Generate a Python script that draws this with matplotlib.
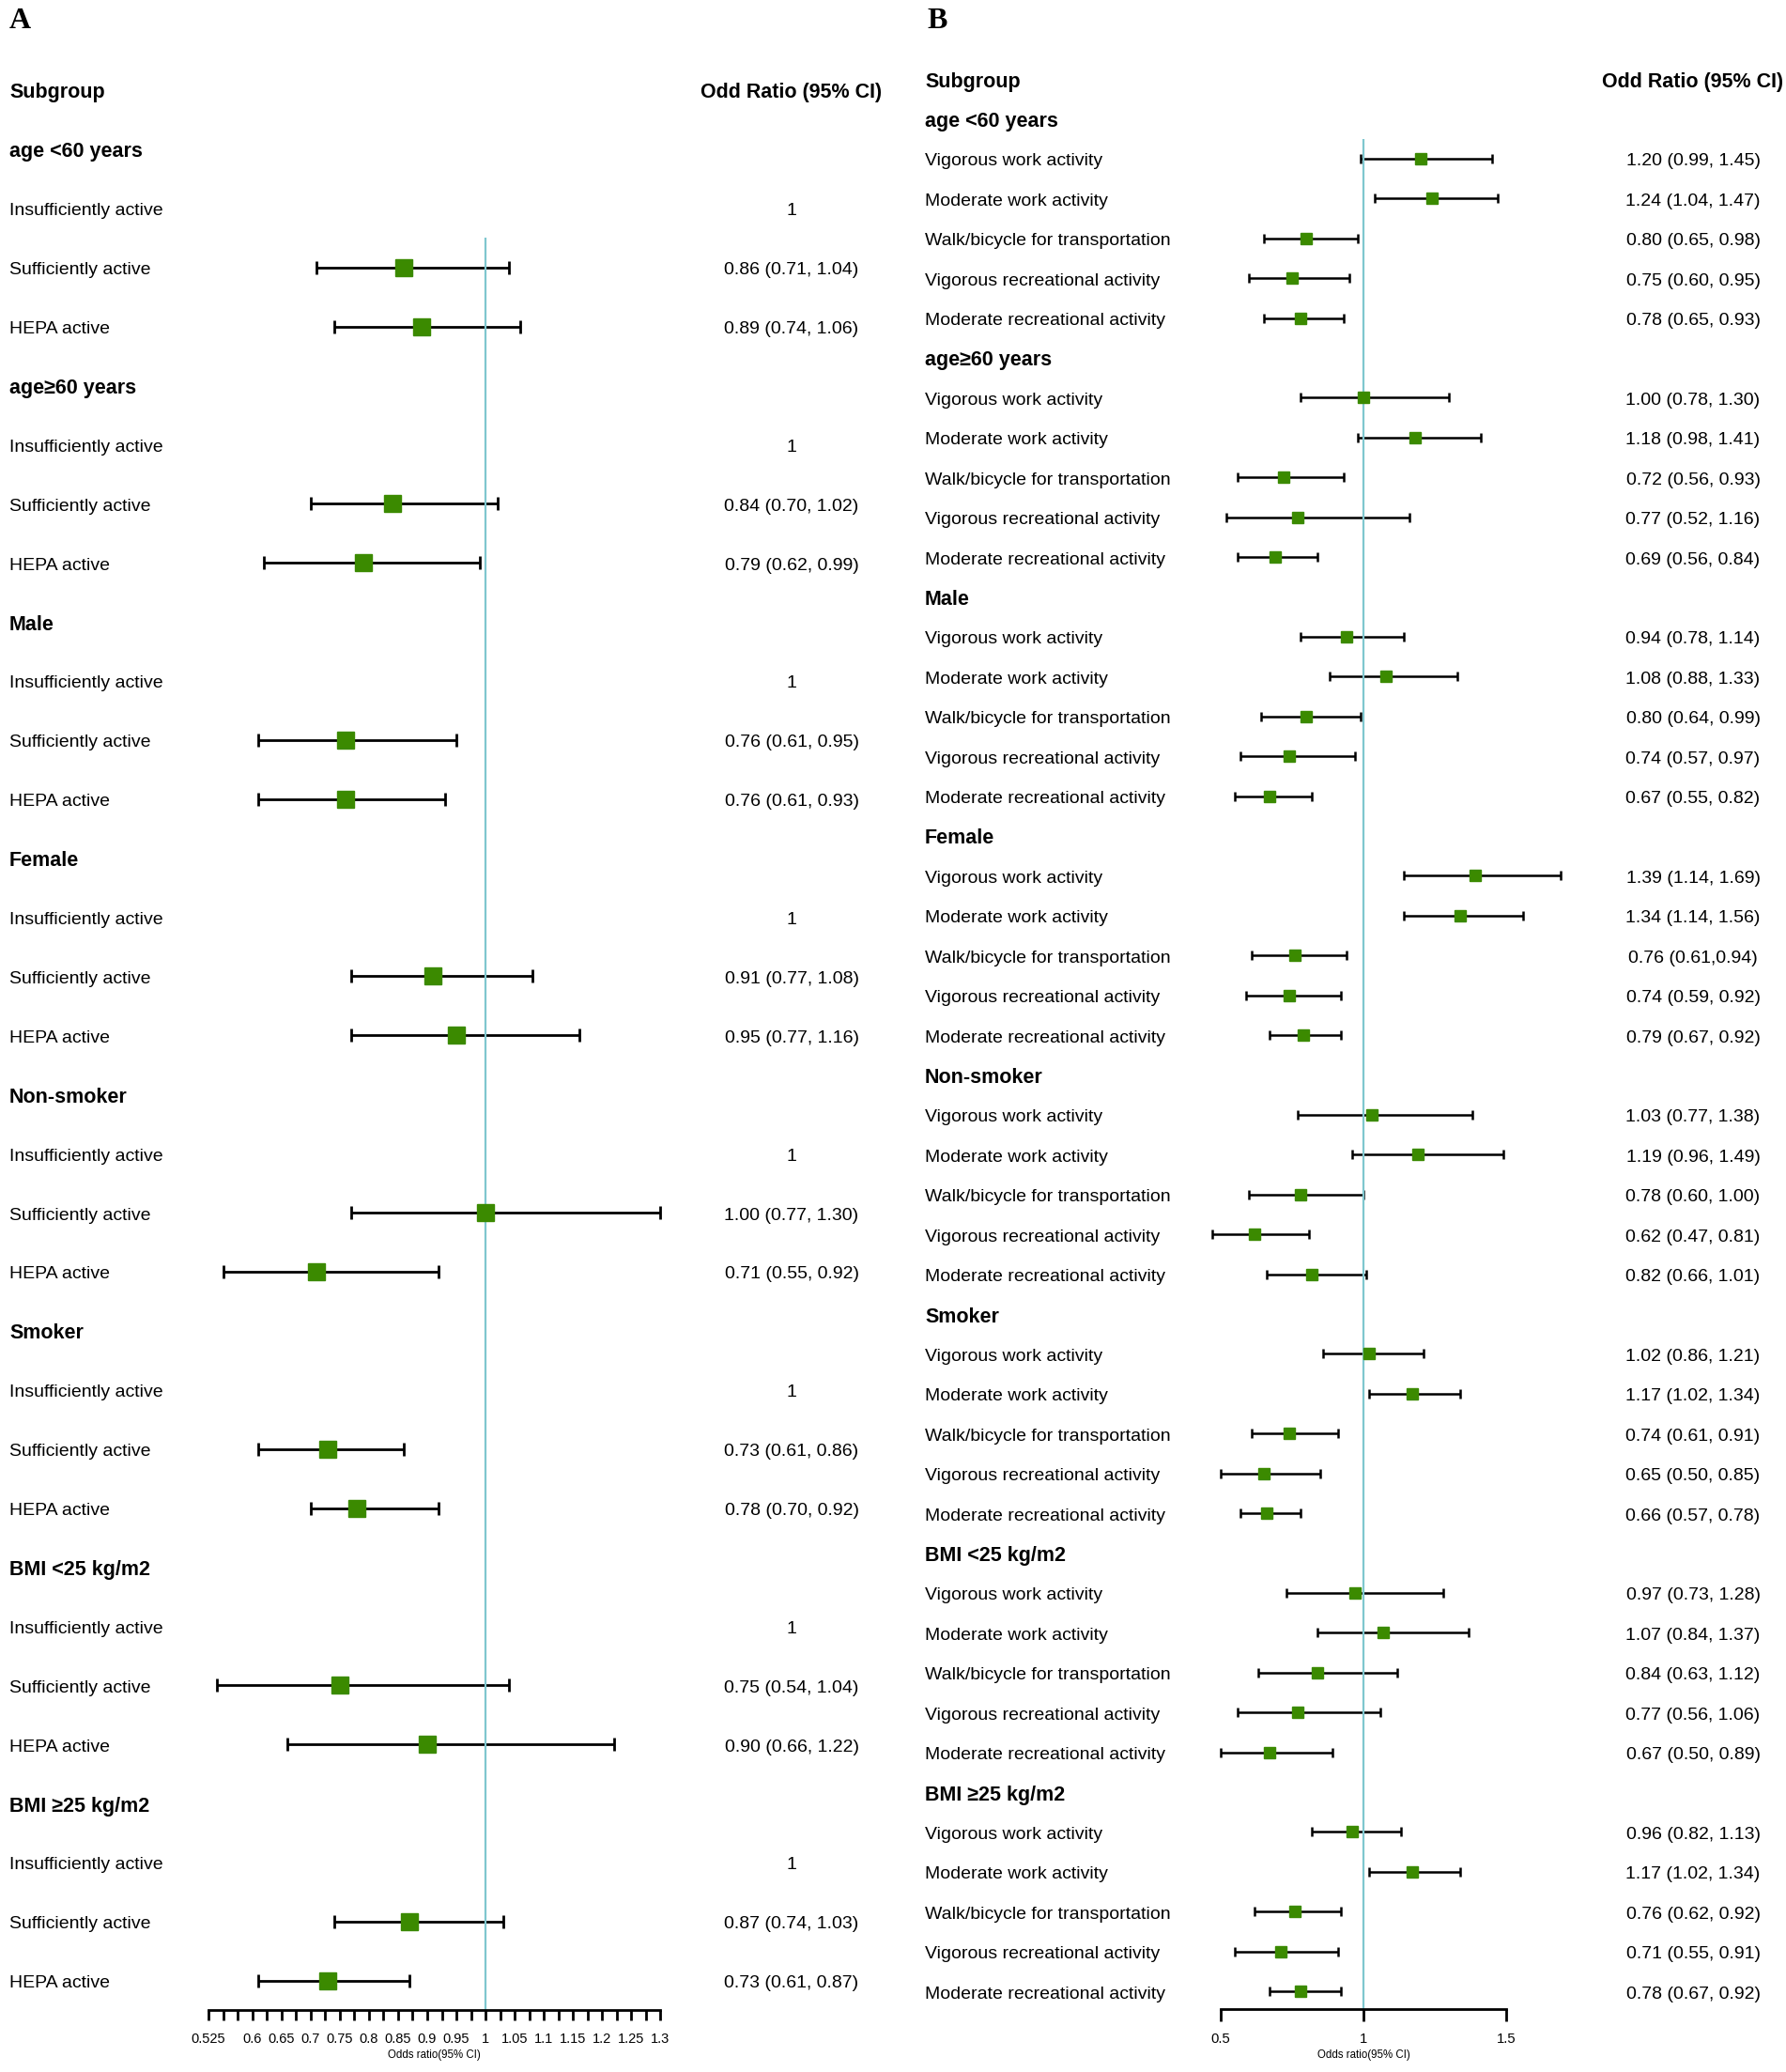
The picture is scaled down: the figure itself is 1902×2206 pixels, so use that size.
import numpy as np
import matplotlib
matplotlib.use("Agg")
import matplotlib.pyplot as plt
from matplotlib.transforms import blended_transform_factory, ScaledTranslation

plt.rcParams['font.family'] = ['Liberation Sans', 'DejaVu Sans']

# ---------------- data: panel A ----------------
left_groups = ["age <60 years", "age\u226560 years", "Male", "Female",
               "Non-smoker", "Smoker", "BMI <25 kg/m2", "BMI \u226525 kg/m2"]
left_rows = ["Insufficiently active", "Sufficiently active", "HEPA active"]
# reference category (Insufficiently active) = 1, no interval
left_or = [[1, 0.86, 0.89], [1, 0.84, 0.79], [1, 0.76, 0.76], [1, 0.91, 0.95],
           [1, 1.00, 0.71], [1, 0.73, 0.78], [1, 0.75, 0.90], [1, 0.87, 0.73]]
left_lo = [[None, 0.71, 0.74], [None, 0.70, 0.62], [None, 0.61, 0.61], [None, 0.77, 0.77],
           [None, 0.77, 0.55], [None, 0.61, 0.70], [None, 0.54, 0.66], [None, 0.74, 0.61]]
left_hi = [[None, 1.04, 1.06], [None, 1.02, 0.99], [None, 0.95, 0.93], [None, 1.08, 1.16],
           [None, 1.30, 0.92], [None, 0.86, 0.92], [None, 1.04, 1.22], [None, 1.03, 0.87]]
left_ticks = np.arange(0.525, 1.3001, 0.025)
left_tick_labels = {0.525: "0.525", 0.6: "0.6", 0.65: "0.65", 0.7: "0.7", 0.75: "0.75",
                    0.8: "0.8", 0.85: "0.85", 0.9: "0.9", 0.95: "0.95", 1.0: "1",
                    1.05: "1.05", 1.1: "1.1", 1.15: "1.15", 1.2: "1.2", 1.25: "1.25", 1.3: "1.3"}

# ---------------- data: panel B ----------------
right_groups = left_groups
right_rows = ["Vigorous work activity", "Moderate work activity",
              "Walk/bicycle for transportation", "Vigorous recreational activity",
              "Moderate recreational activity"]
right_or = [[1.20, 1.24, 0.80, 0.75, 0.78],
            [1.00, 1.18, 0.72, 0.77, 0.69],
            [0.94, 1.08, 0.80, 0.74, 0.67],
            [1.39, 1.34, 0.76, 0.74, 0.79],
            [1.03, 1.19, 0.78, 0.62, 0.82],
            [1.02, 1.17, 0.74, 0.65, 0.66],
            [0.97, 1.07, 0.84, 0.77, 0.67],
            [0.96, 1.17, 0.76, 0.71, 0.78]]
right_lo = [[0.99, 1.04, 0.65, 0.60, 0.65],
            [0.78, 0.98, 0.56, 0.52, 0.56],
            [0.78, 0.88, 0.64, 0.57, 0.55],
            [1.14, 1.14, 0.61, 0.59, 0.67],
            [0.77, 0.96, 0.60, 0.47, 0.66],
            [0.86, 1.02, 0.61, 0.50, 0.57],
            [0.73, 0.84, 0.63, 0.56, 0.50],
            [0.82, 1.02, 0.62, 0.55, 0.67]]
right_hi = [[1.45, 1.47, 0.98, 0.95, 0.93],
            [1.30, 1.41, 0.93, 1.16, 0.84],
            [1.14, 1.33, 0.99, 0.97, 0.82],
            [1.69, 1.56, 0.94, 0.92, 0.92],
            [1.38, 1.49, 1.00, 0.81, 1.01],
            [1.21, 1.34, 0.91, 0.85, 0.78],
            [1.28, 1.37, 1.12, 1.06, 0.89],
            [1.13, 1.34, 0.92, 0.91, 0.92]]
right_text_fix = {(3, 2): "0.76 (0.61,0.94)"}  # as printed in the source
right_ticks = [0.5, 1.0, 1.5]
right_tick_labels = ["0.5", "1", "1.5"]

W, H = 1902, 2206
fig = plt.figure(figsize=(W / 100, H / 100), dpi=100)
fig.patch.set_facecolor("white")

GREEN = "#3b8a00"
REFLINE = "#7fc7cf"


def forest(groups, rows, ors, los, his, fix, x0, x1, row0, step, axis_y, xlim,
           lab_x, val_x, box_ms, cap, lw, fs_big=15.5, fs=14):
    top = row0 - step
    bottom_row = (axis_y - row0) / step
    ax = fig.add_axes([x0 / W, 1 - axis_y / H, (x1 - x0) / W, (axis_y - top) / H])
    ax.set_xlim(xlim)
    ax.set_ylim(bottom_row, -1)
    for s in ["top", "left", "right"]:
        ax.spines[s].set_visible(False)
    ax.spines["bottom"].set_linewidth(2)
    ax.set_yticks([])
    ax.patch.set_alpha(0)
    # texts: x in figure fraction, y in row units, nudged down a few pixels
    tr = blended_transform_factory(fig.transFigure, ax.transData) + \
        ScaledTranslation(0, -3 / 100, fig.dpi_scale_trans)

    ax.text(lab_x / W, 0, "Subgroup", transform=tr, ha="left", va="center",
            fontsize=fs_big, fontweight="bold")
    ax.text(val_x / W, 0, "Odd Ratio (95% CI)", transform=tr, ha="center", va="center",
            fontsize=fs_big, fontweight="bold")

    r = 1
    first_ci = None
    ys, xs, lo_l, hi_l = [], [], [], []
    for g, grp in enumerate(groups):
        ax.text(lab_x / W, r, grp, transform=tr, ha="left", va="center",
                fontsize=fs_big, fontweight="bold")
        r += 1
        for k, name in enumerate(rows):
            ax.text(lab_x / W, r, name, transform=tr, ha="left", va="center", fontsize=fs)
            o, lo, hi = ors[g][k], los[g][k], his[g][k]
            if lo is None:
                txt = f"{o:g}"
            else:
                txt = f"{o:.2f} ({lo:.2f}, {hi:.2f})"
                ys.append(r)
                xs.append(o)
                lo_l.append(lo)
                hi_l.append(hi)
                if first_ci is None:
                    first_ci = r
            txt = fix.get((g, k), txt)
            ax.text(val_x / W, r, txt, transform=tr, ha="center", va="center", fontsize=fs)
            r += 1

    xs = np.array(xs)
    err = [xs - np.array(lo_l), np.array(hi_l) - xs]
    eb = ax.errorbar(xs, ys, xerr=err, fmt="none", ecolor="black", elinewidth=lw,
                     capsize=cap, capthick=lw, zorder=2)
    for a in list(eb.lines[1]) + list(eb.lines[2]):
        a.set_clip_on(False)
    ax.vlines(1, first_ci - 0.5, bottom_row, color=REFLINE, lw=1.6, zorder=2.5)
    ax.plot(xs, ys, "s", color=GREEN, ms=box_ms, mec=GREEN, zorder=3, clip_on=False)
    return ax


axL = forest(left_groups, left_rows, left_or, left_lo, left_hi, {},
             222, 703.5, 96, 62.9, 2140, (0.525, 1.3),
             10, 843, box_ms=13.5, cap=5, lw=2)
axL.set_xticks(left_ticks)
axL.set_xticklabels([left_tick_labels.get(round(t, 3), "") for t in left_ticks])
axL.tick_params(axis="x", direction="out", length=8, width=2, labelsize=10.5, pad=9)
axL.set_xlabel("Odds ratio(95% CI)", fontsize=8.3, labelpad=3)

axR = forest(right_groups, right_rows, right_or, right_lo, right_hi, right_text_fix,
             1300, 1604, 84, 42.42, 2139, (0.5, 1.5),
             985, 1803, box_ms=9.3, cap=3.6, lw=1.8)
axR.set_xticks(right_ticks)
axR.set_xticklabels(right_tick_labels)
axR.tick_params(axis="x", direction="out", length=9, width=2, labelsize=10.7, pad=9)
axR.set_xlabel("Odds ratio(95% CI)", fontsize=8.3, labelpad=3)

fig.text(10 / W, 1 - 22 / H, "A", fontsize=23, fontweight="bold",
         family="Liberation Serif", ha="left", va="center")
fig.text(987 / W, 1 - 22 / H, "B", fontsize=23, fontweight="bold",
         family="Liberation Serif", ha="left", va="center")

fig.savefig("out.png", dpi=100, facecolor="white")
